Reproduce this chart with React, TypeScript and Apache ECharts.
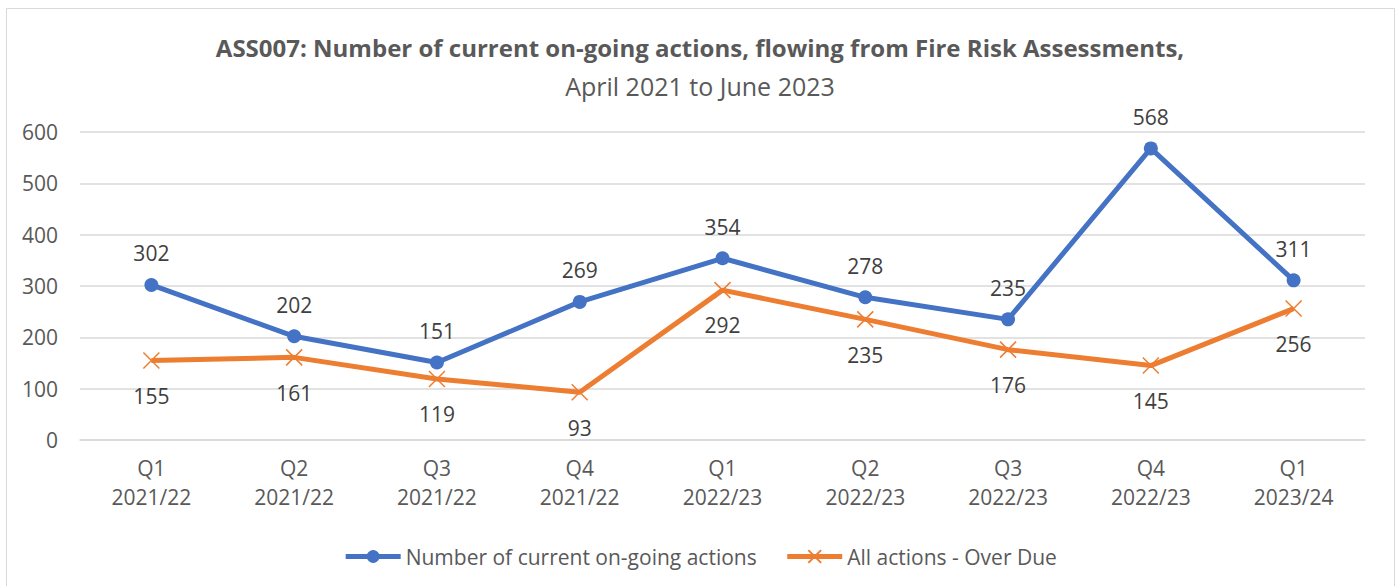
import React, { useEffect, useRef } from "react";
import * as echarts from "echarts";

const categories = [
  "Q1\n2021/22", "Q2\n2021/22", "Q3\n2021/22", "Q4\n2021/22",
  "Q1\n2022/23", "Q2\n2022/23", "Q3\n2022/23", "Q4\n2022/23", "Q1\n2023/24",
];
const ongoing = [302, 202, 151, 269, 354, 278, 235, 568, 311];
const overdue = [155, 161, 119, 93, 292, 235, 176, 145, 256];

const FONT = "'Open Sans', 'Noto Sans', sans-serif";
const BLUE = "#4472C4";
const ORANGE = "#ED7D31";
const TXT = "#404040";
const AX = "#595959";

export default function App() {
  const ref = useRef<HTMLDivElement>(null);
  useEffect(() => {
    if (!ref.current) return;
    const chart = echarts.init(ref.current, null, { renderer: "svg" });
    chart.setOption({
      animation: false,
      backgroundColor: "#ffffff",
      textStyle: { fontFamily: FONT },
      title: [
        {
          text: "ASS007: Number of current on-going actions, flowing from Fire Risk Assessments,",
          left: "center",
          top: 30,
          textStyle: { fontFamily: FONT, fontSize: 24, fontWeight: "bold", color: AX },
        },
        {
          text: "April 2021 to June 2023",
          left: "center",
          top: 68,
          textStyle: { fontFamily: FONT, fontSize: 25, fontWeight: "normal", color: AX },
        },
      ],
      graphic: [
        {
          type: "rect",
          shape: { x: 6.5, y: 8.5, width: 1388, height: 590 },
          style: { fill: "none", stroke: "#d9d9d9", lineWidth: 1 },
          silent: true,
        },
      ],
      grid: { left: 80, right: 35, top: 132, bottom: 146, containLabel: false },
      legend: {
        bottom: 14,
        left: "center",
        itemWidth: 55,
        itemHeight: 16,
        itemGap: 28,
        textStyle: { fontFamily: FONT, fontSize: 21, color: AX },
        lineStyle: { width: 5 },
        data: ["Number of current on-going actions", "All actions - Over Due"],
      },
      xAxis: {
        type: "category",
        data: categories,
        boundaryGap: true,
        axisLine: { show: true, lineStyle: { color: "#d9d9d9", width: 1.5 } },
        axisTick: { show: false },
        axisLabel: { fontFamily: FONT, fontSize: 21, color: AX, lineHeight: 29, margin: 13 },
      },
      yAxis: {
        type: "value",
        min: 0,
        max: 600,
        interval: 100,
        axisLine: { show: false },
        axisTick: { show: false },
        axisLabel: { fontFamily: FONT, fontSize: 21, color: AX, margin: 22 },
        splitLine: { lineStyle: { color: "#d9d9d9", width: 1.5 } },
      },
      series: [
        {
          name: "Number of current on-going actions",
          type: "line",
          data: ongoing,
          symbol: "circle",
          symbolSize: 14,
          lineStyle: { color: BLUE, width: 5 },
          itemStyle: { color: BLUE },
          label: {
            show: true,
            position: "top",
            distance: 14,
            fontFamily: FONT,
            fontSize: 21,
            color: TXT,
          },
        },
        {
          name: "All actions - Over Due",
          type: "line",
          data: overdue,
          symbol: "path://M0,0L10,10M10,0L0,10",
          symbolSize: 16,
          lineStyle: { color: ORANGE, width: 5 },
          itemStyle: { color: ORANGE, borderColor: ORANGE, borderWidth: 1.5 },
          label: {
            show: true,
            position: "bottom",
            distance: 16,
            fontFamily: FONT,
            fontSize: 21,
            color: TXT,
          },
        },
      ],
    });
    return () => chart.dispose();
  }, []);
  return (
    <div
      ref={ref}
      style={{ position: "absolute", left: 0, top: 0, width: 1400, height: 586 }}
    />
  );
}
